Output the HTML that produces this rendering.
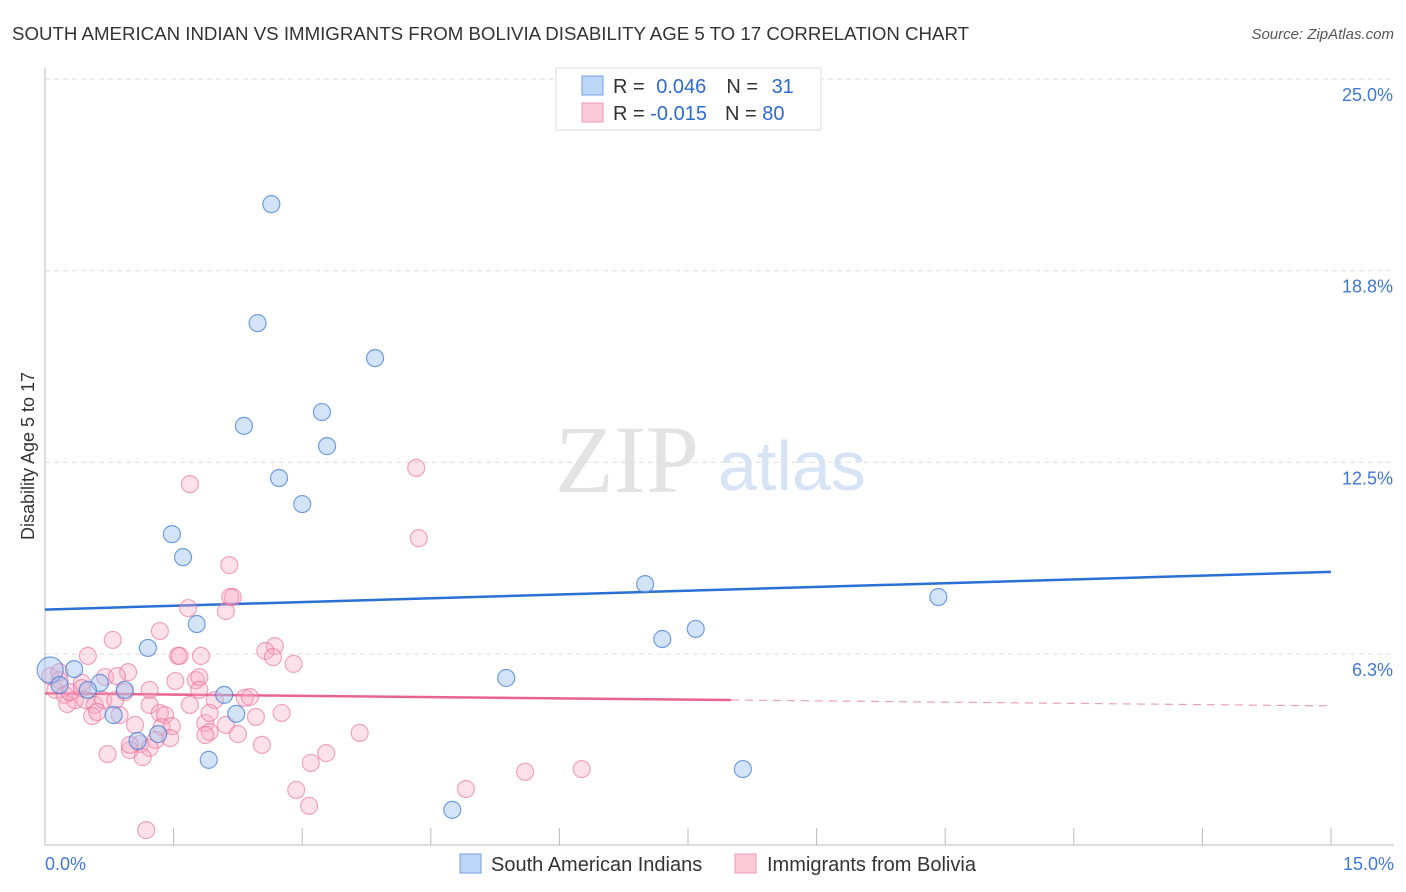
<!DOCTYPE html>
<html><head><meta charset="utf-8">
<style>
body{margin:0;background:#fff;font-family:"Liberation Sans",sans-serif;}
#wrap{position:relative;width:1406px;height:892px;overflow:hidden;}
</style></head>
<body>
<div id="wrap">
<svg id="chart" width="1406" height="892">
<text x="12" y="40" font-size="18" fill="#333" textLength="957" lengthAdjust="spacingAndGlyphs">SOUTH AMERICAN INDIAN VS IMMIGRANTS FROM BOLIVIA DISABILITY AGE 5 TO 17 CORRELATION CHART</text>
<text x="1394" y="39" font-size="15" fill="#555" text-anchor="end" font-style="italic">Source: ZipAtlas.com</text>
<text x="34" y="456" font-size="18" fill="#333" text-anchor="middle" transform="rotate(-90 34 456)">Disability Age 5 to 17</text>
<text x="555" y="492" font-size="96" fill="#e3e3e3" font-family="Liberation Serif,serif">ZIP</text>
<text x="718" y="490" font-size="70" fill="#d6e4f5">atlas</text>
<g id="grid"></g><g id="axes"></g><g id="trend"></g><g id="pts"></g>
<g>
<rect x="556" y="68" width="265" height="62" fill="#fff" stroke="#ddd"/>
<rect x="582" y="76" width="21" height="19" fill="#bcd6f7" stroke="#6fa0e0"/>
<rect x="582" y="103" width="21" height="19" fill="#fcc9d8" stroke="#ec9ab3"/>
<text x="613" y="93" font-size="20" fill="#333">R = <tspan fill="#2e6bd1" dx="6">0.046</tspan><tspan dx="20" fill="#333">N = </tspan><tspan fill="#2e6bd1" dx="8">31</tspan></text>
<text x="613" y="120" font-size="20" fill="#333">R = <tspan fill="#2e6bd1">-0.015</tspan><tspan dx="18" fill="#333">N = </tspan><tspan fill="#2e6bd1">80</tspan></text>
</g>
<g>
<rect x="460" y="854" width="21" height="19" fill="#bcd6f7" stroke="#6fa0e0"/>
<text x="491" y="871" font-size="20" fill="#333">South American Indians</text>
<rect x="735" y="854" width="21" height="19" fill="#fcc9d8" stroke="#ec9ab3"/>
<text x="767" y="871" font-size="20" fill="#333">Immigrants from Bolivia</text>
</g>
</svg>
</div>
<script>
const xTickLabels=["0.0%","15.0%"];
const yTicks=[25,18.75,12.5,6.25];
const yTickLabels=["25.0%","18.8%","12.5%","6.3%"];
const blueX=[2.64,2.48,3.85,3.23,2.32,3.29,2.73,3.00,1.48,1.61,7.00,10.42,1.77,7.20,7.59,1.20,0.34,0.64,0.93,5.38,2.09,2.23,0.80,1.32,1.08,1.91,4.75,8.14,0.06,0.50,0.17];
const blueY=[20.92,17.04,15.90,14.14,13.69,13.03,11.99,11.14,10.16,9.41,8.53,8.11,7.23,6.74,7.07,6.45,5.76,5.31,5.08,5.47,4.92,4.30,4.26,3.64,3.42,2.80,1.17,2.50,5.73,5.08,5.24];
const pinkX=[1.69,4.33,4.36,2.15,2.19,1.67,2.11,1.34,0.79,0.50,1.55,1.82,2.68,2.57,2.66,2.90,0.97,0.70,0.84,1.52,1.76,1.80,0.43,0.17,0.06,0.12,0.23,0.35,0.26,0.29,0.47,0.58,0.68,0.93,1.22,1.69,1.98,2.33,2.39,0.55,0.61,0.87,1.34,1.40,1.05,1.36,1.48,1.87,1.92,2.11,2.46,2.76,1.29,1.46,1.11,1.22,0.99,1.14,0.73,1.92,2.25,2.53,3.28,3.67,3.10,2.93,3.08,4.91,5.60,6.26,1.18,0.99,1.87,0.17,0.43,1.22,1.80,2.16,1.57,0.82];
const pinkY=[11.79,12.32,10.03,9.15,8.11,7.75,7.65,7.00,6.71,6.19,6.19,6.19,6.51,6.35,6.15,5.93,5.66,5.50,5.53,5.37,5.40,5.50,5.31,5.40,5.53,5.08,4.92,4.75,4.62,5.01,4.75,4.59,4.75,5.01,4.59,4.59,4.75,4.82,4.85,4.23,4.36,4.26,4.33,4.26,3.94,3.87,3.90,4.00,4.33,3.94,4.20,4.33,3.45,3.51,3.32,3.19,3.12,2.89,2.99,3.71,3.64,3.29,3.02,3.68,2.70,1.82,1.30,1.85,2.41,2.50,0.51,3.29,3.61,5.66,5.14,5.08,5.08,8.11,6.19,4.75];
const blueTrend=[7.7,8.93];
const pinkTrend=[4.97,4.56];
const pinkSolidEnd=8.0;

const NS="http://www.w3.org/2000/svg";
const X0=45,X1=1331,Ymax=25;
function xs(v){return X0+v/15*(X1-X0);}
function ys(v){return 79+(Ymax-v)*30.67;}
function mk(tag,attrs,parent){const e=document.createElementNS(NS,tag);for(const k in attrs)e.setAttribute(k,attrs[k]);parent.appendChild(e);return e;}
const grid=document.getElementById('grid'),axes=document.getElementById('axes'),trend=document.getElementById('trend'),pts=document.getElementById('pts');
yTicks.forEach((t,i)=>{
  const l=mk('line',{x1:X0,x2:1394,y1:ys(t),y2:ys(t),stroke:'#ddd','stroke-dasharray':'5,4'},grid);
  
  
  const tx=mk('text',{x:1393,y:ys(t)+22,'font-size':18,fill:'#3f78d6','text-anchor':'end'},grid);
  tx.textContent=yTickLabels[i];
  
  
});
const ax=mk('line',{x1:X0,x2:X0,y1:68,y2:845,stroke:'#bbb'},axes);


const bx=mk('line',{x1:X0,x2:1394,y1:845,y2:845,stroke:'#bbb'},axes);


for(let i=1;i<=10;i++){
  const t=mk('line',{x1:xs(i*1.5),x2:xs(i*1.5),y1:828,y2:845,stroke:'#bbb'},axes);
  
  
}
const xl0=mk('text',{x:45,y:870,'font-size':18,fill:'#3f78d6'},axes);
xl0.textContent=xTickLabels[0];


const xl1=mk('text',{x:1394,y:870,'font-size':18,fill:'#3f78d6','text-anchor':'end'},axes);
xl1.textContent=xTickLabels[1];



const bt=mk('line',{x1:xs(0),y1:ys(blueTrend[0]),x2:xs(15),y2:ys(blueTrend[1]),stroke:'#2a6fd6','stroke-width':2.5},trend);


function py(v){return pinkTrend[0]+(pinkTrend[1]-pinkTrend[0])*v/15;}
const pt=mk('line',{x1:xs(0),y1:ys(py(0)),x2:xs(pinkSolidEnd),y2:ys(py(pinkSolidEnd)),stroke:'#e8648f','stroke-width':2.5},trend);


const pd=mk('line',{x1:xs(pinkSolidEnd),y1:ys(py(pinkSolidEnd)),x2:xs(15),y2:ys(py(15)),stroke:'#e8a0b8','stroke-width':1.2,'stroke-dasharray':'8,6'},trend);



pinkX.forEach((x,i)=>{
  const c=mk('circle',{cx:xs(x),cy:ys(pinkY[i]),r:8.5,fill:'rgba(248,170,196,0.35)',stroke:'rgba(232,110,150,0.6)','stroke-width':1.2},pts);
  
  
});
blueX.forEach((x,i)=>{
  const c=mk('circle',{cx:xs(x),cy:ys(blueY[i]),r:i==28?13:8.5,fill:'rgba(160,196,240,0.45)',stroke:'rgba(60,120,210,0.7)','stroke-width':1.2},pts);
  
  
});
</script>
</body></html>
